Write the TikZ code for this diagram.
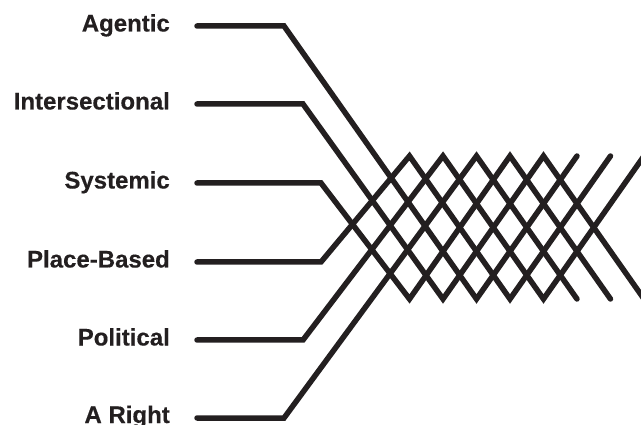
\documentclass[tikz,border=0pt]{standalone}
\usepackage{fontspec}
\setmainfont{Liberation Sans}[BoldFeatures={FakeBold=0.35}]
\definecolor{ink}{HTML}{231F20}
\begin{document}
\begin{tikzpicture}[x=1pt,y=-1pt,
  strand/.style={line width=5.5pt, draw=ink, line cap=round, line join=miter},
  lab/.style={anchor=base east, font=\fontsize{24}{28}\selectfont\bfseries, text=ink, inner sep=0pt}]
\useasboundingbox (0,0) rectangle (641,425);

% labels
\node[lab] (agentic) at (170,31.5)  {Agentic};
\node[lab] (inter)   at (170,109.5) {Intersectional};
\node[lab] (syst)    at (170,188.5) {Systemic};
\node[lab] (place)   at (170,267.5) {Place-Based};
\node[lab] (polit)   at (170,345.5) {Political};
\node[lab] (right)   at (170,423)   {A Right};

% start points of the strands
\coordinate (s1) at (197,26);
\coordinate (s2) at (197,104);
\coordinate (s3) at (197,183);
\coordinate (s4) at (197,262);
\coordinate (s5) at (197,340);
\coordinate (s6) at (197,418);

% bends
\coordinate (b1) at (284,26);
\coordinate (b2) at (303,104);
\coordinate (b3) at (321,183);
\coordinate (b4) at (321,262);
\coordinate (b5) at (303,340);
\coordinate (b6) at (284,418);

% turning points of the weave: top row T, bottom row B
\foreach \k in {0,...,7}{
  \pgfmathsetmacro{\xk}{409.5+33.5*\k}
  \coordinate (T\k) at (\xk,156);
  \coordinate (B\k) at (\xk,299);
}

% strands
\draw[strand] (s1) -- (b1) -- (B2) -- (T5);
\draw[strand] (s2) -- (b2) -- (B1) -- (T4) -- (B7);
\draw[strand] (s3) -- (b3) -- (B0) -- (T3) -- (B6);
\draw[strand] (s4) -- (b4) -- (T0) -- (B3) -- (T6);
\draw[strand] (s5) -- (b5) -- (T1) -- (B4) -- (T7);
\draw[strand] (s6) -- (b6) -- (T2) -- (B5);
\end{tikzpicture}
\end{document}
